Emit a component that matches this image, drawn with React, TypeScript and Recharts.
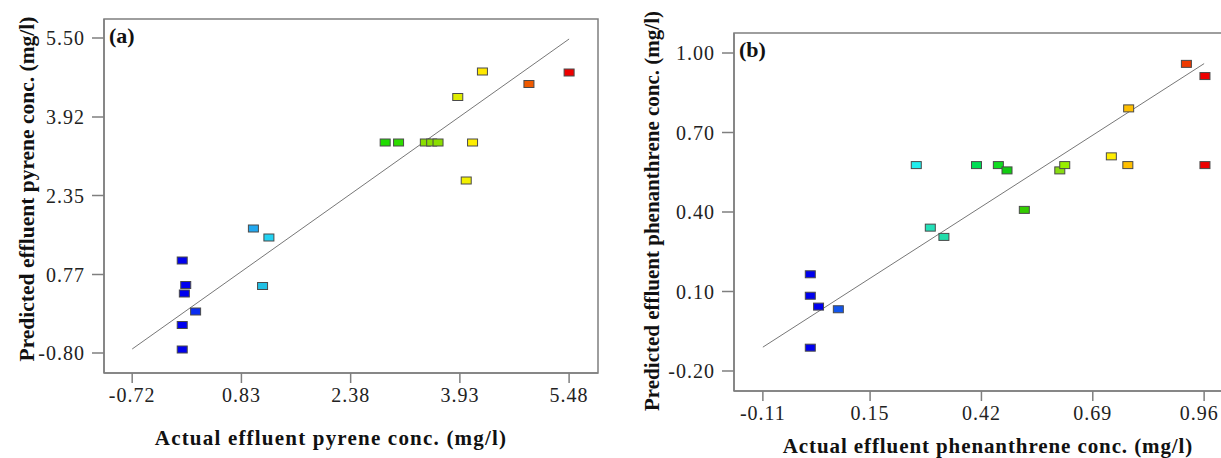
import React from "react";
import {
  ScatterChart,
  Scatter,
  XAxis,
  YAxis,
  ReferenceLine,
  ReferenceArea,
} from "recharts";

// (a) pyrene
const pyreneActual = [5.48, 4.91, 4.25, 3.9, 2.87, 3.06, 3.44, 3.53, 3.62, 4.11, 4.02, 1.0, 1.22, 1.13, -0.01, 0.04, 0.02, 0.18, -0.01, -0.01];
const pyrenePredicted = [4.81, 4.58, 4.83, 4.32, 3.41, 3.41, 3.41, 3.41, 3.41, 3.41, 2.65, 1.69, 1.51, 0.54, 1.05, 0.56, 0.39, 0.03, -0.24, -0.73];
const pyreneColors = ["#ee0000", "#f05a00", "#ffe800", "#dfec00", "#1fdc00", "#2edc00", "#8ade00", "#8ade00", "#8ade00", "#ffee00", "#f2f000", "#22a8f0", "#22d2f2", "#22c0e4", "#0000ee", "#0000ee", "#0000ee", "#0a2cf0", "#0000ee", "#0000ee"];
const pyreneXTicks = [-0.72, 0.83, 2.38, 3.93, 5.48];
const pyreneYTicks = [-0.8, 0.77, 2.35, 3.92, 5.5];

// (b) phenanthrene
const phenActual = [0.917, 0.962, 0.777, 0.262, 0.408, 0.461, 0.482, 0.61, 0.622, 0.735, 0.775, 0.962, 0.524, 0.296, 0.329, 0.005, 0.005, 0.025, 0.073, 0.005];
const phenPredicted = [0.959, 0.913, 0.791, 0.577, 0.577, 0.577, 0.557, 0.557, 0.577, 0.61, 0.577, 0.577, 0.408, 0.341, 0.306, 0.165, 0.084, 0.043, 0.033, -0.112];
const phenColors = ["#ee3a00", "#ee0000", "#ffbf00", "#22eeee", "#00dd55", "#11dd22", "#11cc11", "#88dd11", "#99ee00", "#ffee00", "#ffbf00", "#ee0000", "#33cc00", "#22e0b8", "#22dcaa", "#0000ee", "#0000ee", "#0000ee", "#1155ee", "#0000ee"];
const phenXTicks = [-0.11, 0.15, 0.42, 0.69, 0.96];
const phenYTicks = [-0.2, 0.1, 0.4, 0.7, 1.0];

const SERIF = '"Liberation Serif", "Times New Roman", serif';
const GRAY = "#7f7f7f";

const toRows = (xs: number[], ys: number[], cs: string[]) =>
  xs.map((x, i) => ({ x, y: ys[i], color: cs[i] }));

const Marker = (props: any) => {
  const { cx, cy, payload } = props;
  if (cx == null || cy == null) return null;
  return (
    <rect x={cx - 5} y={cy - 3.5} width={10} height={7} fill={payload.color}
      stroke="#4a4a4a" strokeWidth={1} />
  );
};

const tickStyle = { fill: "#222", fontSize: 20, fontFamily: SERIF, letterSpacing: 1 };

// x tick; the last label can be nudged left so it stays inside the page
const XTick = (props: any) => {
  const { x, y, payload, index, lastShift = 0, count } = props;
  const dx = index === count - 1 ? lastShift : 0;
  return (
    <text x={x + dx} y={y} dy="0.71em" textAnchor="middle" {...tickStyle}>
      {Number(payload.value).toFixed(2)}
    </text>
  );
};

interface PanelProps {
  rows: { x: number; y: number; color: string }[];
  xDomain: [number, number];
  yDomain: [number, number];
  xTicks: number[];
  yTicks: number[];
  width: number;
  height: number;
  top: number;
  yAxisWidth: number;
  xAxisHeight: number;
  fitLine: [number, number];
  lastShift?: number;
}

function Panel(p: PanelProps) {
  return (
    <ScatterChart width={p.width} height={p.height}
      margin={{ top: p.top, right: 12, bottom: 0, left: 0 }}>
      <XAxis type="number" dataKey="x" domain={p.xDomain} ticks={p.xTicks} allowDataOverflow
        height={p.xAxisHeight} tickSize={10} tickMargin={5}
        tick={<XTick lastShift={p.lastShift ?? 0} count={p.xTicks.length} />}
        axisLine={{ stroke: GRAY, strokeWidth: 1.5 }} tickLine={{ stroke: GRAY, strokeWidth: 1.5 }} />
      <YAxis type="number" dataKey="y" domain={p.yDomain} ticks={p.yTicks} allowDataOverflow
        width={p.yAxisWidth} tickSize={12} tickMargin={7} tick={tickStyle}
        tickFormatter={(v: number) => v.toFixed(2)}
        axisLine={{ stroke: GRAY, strokeWidth: 1.5 }} tickLine={{ stroke: GRAY, strokeWidth: 1.5 }} />
      <ReferenceArea x1={p.xDomain[0]} x2={p.xDomain[1]} y1={p.yDomain[0]} y2={p.yDomain[1]}
        fill="none" fillOpacity={0} stroke={GRAY} strokeWidth={1.5} />
      <ReferenceLine segment={[{ x: p.fitLine[0], y: p.fitLine[0] }, { x: p.fitLine[1], y: p.fitLine[1] }]}
        stroke="#777" strokeWidth={1} />
      <Scatter data={p.rows} shape={<Marker />} isAnimationActive={false} />
    </ScatterChart>
  );
}

const titleStyle: React.CSSProperties = {
  position: "absolute",
  fontFamily: SERIF,
  fontWeight: "bold",
  fontSize: 21,
  color: "#111",
  whiteSpace: "nowrap",
  lineHeight: 1,
};

export default function App() {
  return (
    <div style={{ position: "fixed", left: 0, top: 0, width: 1221, height: 458, overflow: "hidden", background: "#fff" }}>
      <div style={{ position: "absolute", left: 0, top: 0 }}>
        <Panel rows={toRows(pyreneActual, pyrenePredicted, pyreneColors)}
          xDomain={[-1.12, 5.89]} yDomain={[-1.2, 5.88]} xTicks={pyreneXTicks} yTicks={pyreneYTicks}
          width={610} height={458} top={19} yAxisWidth={104} xAxisHeight={85} fitLine={[-0.72, 5.48]} />
      </div>
      <div style={{ position: "absolute", left: 620, top: 0 }}>
        <Panel rows={toRows(phenActual, phenPredicted, phenColors)}
          xDomain={[-0.18, 1.03]} yDomain={[-0.2755, 1.0755]} xTicks={phenXTicks} yTicks={phenYTicks}
          width={625} height={458} top={33} yAxisWidth={114} xAxisHeight={67} fitLine={[-0.11, 0.96]}
          lastShift={-5} />
      </div>

      <div style={{ ...titleStyle, fontSize: 22, left: 109, top: 25 }}>(a)</div>
      <div style={{ ...titleStyle, fontSize: 22, left: 739, top: 39 }}>(b)</div>

      <div style={{ ...titleStyle, left: 331, top: 438, letterSpacing: 1.2, transform: "translate(-50%,-50%)" }}>
        Actual effluent pyrene conc. (mg/l)
      </div>
      <div style={{ ...titleStyle, fontSize: 21.5, left: 28, top: 189, transform: "translate(-50%,-50%) rotate(-90deg)" }}>
        Predicted effluent pyrene conc. (mg/l)
      </div>

      <div style={{ ...titleStyle, left: 988, top: 446, letterSpacing: 0.9, transform: "translate(-50%,-50%)" }}>
        Actual effluent phenanthrene conc. (mg/l)
      </div>
      <div style={{ ...titleStyle, left: 652, top: 211, transform: "translate(-50%,-50%) rotate(-90deg)" }}>
        Predicted effluent phenanthrene conc. (mg/l)
      </div>
    </div>
  );
}
